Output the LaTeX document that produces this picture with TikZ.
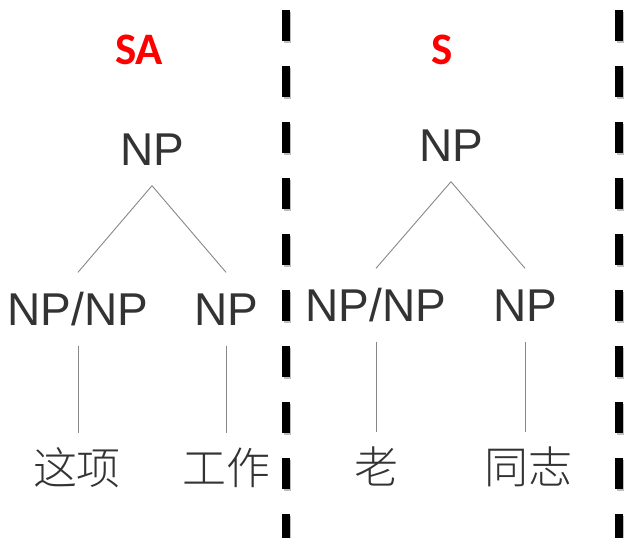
\documentclass[tikz,border=0pt]{standalone}
\usepackage{fontspec}
\setmainfont{Liberation Sans}
\newfontfamily\cjk{Noto Sans CJK SC Light}
\newfontfamily\titlefont{Carlito}
\definecolor{txtgray}{RGB}{51,51,51}
\definecolor{linegray}{RGB}{135,135,135}
\tikzset{
  cat/.style={inner sep=0pt, inner ysep=20pt, text height=33pt, text depth=0pt,
    text=txtgray, font=\fontsize{46}{50}\selectfont},
  word/.style={inner sep=0pt, inner ysep=15pt, text height=36pt, text depth=4pt,
    text=txtgray, font=\cjk\fontsize{44}{48}\selectfont},
  branch/.style={draw=linegray, line width=0.9pt},
  title/.style={inner sep=0pt, text=red, font=\titlefont\bfseries\fontsize{45}{50}\selectfont},
  divider/.style={line width=7.5pt, dash pattern=on 31pt off 25pt}
}

\begin{document}
\begin{tikzpicture}[x=1pt,y=-1pt]
            \useasboundingbox (0,0) rectangle (625,538);
            \foreach \x in {286,619}{
                \draw[divider, black!25] (\x+1.5,12) -- (\x+1.5,540);
                \draw[divider] (\x,10) -- (\x,538);
            }
            \begin{scope}
                \node[title] (titleSA) at (139,50) {SA};
                \node[cat] (lroot) at (152,149) {NP};
                \node[cat] (lmod) at (78,309) {NP/NP};
                \node[cat] (lhead) at (226,309) {NP};
                \node[word] (lw1) at (77,468) {这项};
                \node[word] (lw2) at (226,468) {工作};
                \draw[branch] (lroot.south) -- (lmod.north);
                \draw[branch] (lroot.south) -- (lhead.north);
                \draw[branch] (lmod.south) -- (lmod.south |- lw1.north);
                \draw[branch] (lhead.south) -- (lhead.south |- lw2.north);
            \end{scope}
            \begin{scope}
                \node[title] (titleS) at (442,50) {S};
                \node[cat] (rroot) at (451,145) {NP};
                \node[cat] (rmod) at (376,305) {NP/NP};
                \node[cat] (rhead) at (525,305) {NP};
                \node[word] (rw1) at (376,467) {老};
                \node[word] (rw2) at (528,467) {同志};
                \draw[branch] (rroot.south) -- (rmod.north);
                \draw[branch] (rroot.south) -- (rhead.north);
                \draw[branch] (rmod.south) -- (rmod.south |- rw1.north);
                \draw[branch] (rhead.south) -- (rhead.south |- rw2.north);
            \end{scope}
        \end{tikzpicture}
\end{document}
